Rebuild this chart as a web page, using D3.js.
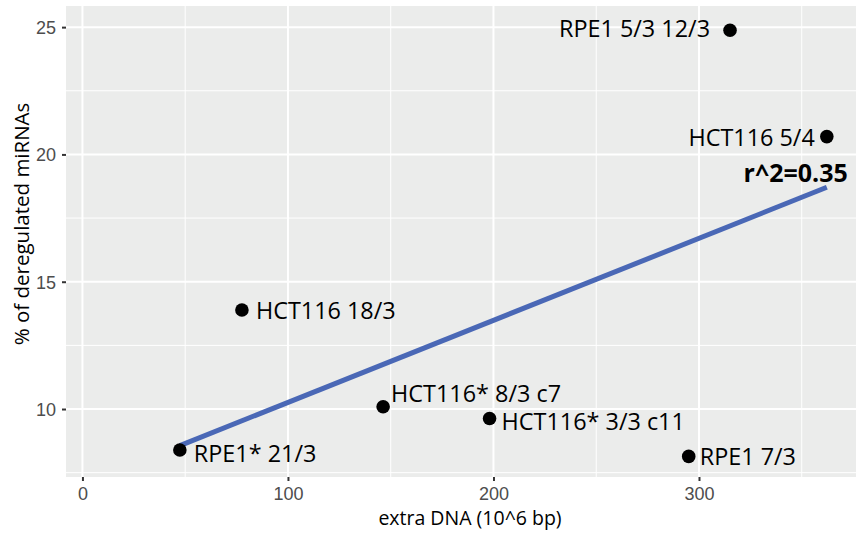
<!DOCTYPE html>
<html>
<head>
<meta charset="utf-8">
<script src="https://cdn.jsdelivr.net/npm/d3@7"></script>
<style>
  body { margin: 0; background: #fff; }
  svg { font-family: 'Open Sans', sans-serif; }
</style>
</head>
<body>
<div id="plotSection"></div>
<script>
// data
const samples = ['RPE1* 21/3', 'HCT116 18/3', 'HCT116* 8/3 c7', 'HCT116* 3/3 c11', 'RPE1 7/3', 'RPE1 5/3 12/3', 'HCT116 5/4']
const extraDNA = [47.4, 77.6, 146.3, 198.1, 295.0, 315.1, 362.2]
const deregulated = [8.39, 13.89, 10.09, 9.63, 8.14, 24.88, 20.70]
const xTicks = [0, 100, 200, 300]
const yTicks = [10, 15, 20, 25]

// label placement (pixels, relative to the point)
const labelLayout = [
    { side: 'right', dx: 14, dy: 11.5 },
    { side: 'right', dx: 14, dy: 9.5 },
    { side: 'right', dx: 8, dy: -5 },
    { side: 'right', dx: 12, dy: 11.5 },
    { side: 'right', dx: 11, dy: 8.7 },
    { side: 'left', dx: -20, dy: 7 },
    { side: 'left', dx: -12, dy: 9.4 }
]

const W = 856, H = 536
const panel = { left: 66, right: 856, top: 6, bottom: 477 }

const data = samples.map((s, i) => ({ name: s, x: extraDNA[i], y: deregulated[i], lay: labelLayout[i] }))

const xScale = d3.scaleLinear().domain([-8.0, 376.4]).range([panel.left, panel.right])
const yScale = d3.scaleLinear().domain([7.33, 25.83]).range([panel.bottom, panel.top])

// least squares fit (geom_smooth method = lm)
const mx = d3.mean(data, d => d.x), my = d3.mean(data, d => d.y)
const sxy = d3.sum(data, d => (d.x - mx) * (d.y - my))
const sxx = d3.sum(data, d => (d.x - mx) ** 2)
const syy = d3.sum(data, d => (d.y - my) ** 2)
const slope = sxy / sxx, intercept = my - slope * mx
const r2 = (sxy * sxy) / (sxx * syy)
const fitX = d3.extent(data, d => d.x)
const fit = fitX.map(x => ({ x: x, y: intercept + slope * x }))

const svg = d3.select('#plotSection').append('svg')
    .attr('width', W)
    .attr('height', H)

svg.append('rect')
    .attr('x', panel.left).attr('y', panel.top)
    .attr('width', panel.right - panel.left)
    .attr('height', panel.bottom - panel.top)
    .attr('fill', '#EBECEB')

const grid = svg.append('g')
const xMinor = [50, 150, 250, 350]
const yMinor = [7.5, 12.5, 17.5, 22.5]

grid.selectAll('.xminor').data(xMinor).enter().append('line')
    .attr('x1', xScale).attr('x2', xScale)
    .attr('y1', panel.top).attr('y2', panel.bottom)
    .attr('stroke', '#fff').attr('stroke-width', 1)
grid.selectAll('.yminor').data(yMinor).enter().append('line')
    .attr('y1', yScale).attr('y2', yScale)
    .attr('x1', panel.left).attr('x2', panel.right)
    .attr('stroke', '#fff').attr('stroke-width', 1)
grid.selectAll('.xmajor').data(xTicks).enter().append('line')
    .attr('x1', xScale).attr('x2', xScale)
    .attr('y1', panel.top).attr('y2', panel.bottom)
    .attr('stroke', '#fff').attr('stroke-width', 2)
grid.selectAll('.ymajor').data(yTicks).enter().append('line')
    .attr('y1', yScale).attr('y2', yScale)
    .attr('x1', panel.left).attr('x2', panel.right)
    .attr('stroke', '#fff').attr('stroke-width', 2)

// axes
const xAxis = d3.axisBottom(xScale).tickValues(xTicks).tickSize(4).tickPadding(6).tickSizeOuter(0)
const yAxis = d3.axisLeft(yScale).tickValues(yTicks).tickSize(4).tickPadding(6).tickSizeOuter(0)

const gx = svg.append('g')
    .attr('transform', `translate(0,${panel.bottom})`)
    .call(xAxis)
gx.select('.domain').remove()
gx.selectAll('line').attr('stroke', '#333').attr('stroke-width', 2)
gx.selectAll('text').attr('fill', '#4D4D4D').style('font-size', '18px')

const gy = svg.append('g')
    .attr('transform', `translate(${panel.left},0)`)
    .call(yAxis)
gy.select('.domain').remove()
gy.selectAll('line').attr('stroke', '#333').attr('stroke-width', 2)
gy.selectAll('text').attr('fill', '#4D4D4D').style('font-size', '18px').attr('dy', '0.36em')

svg.append('text')
    .attr('x', 470)
    .attr('y', 525)
    .attr('text-anchor', 'middle')
    .style('font-size', '19.5px')
    .attr('fill', '#000')
    .text('extra DNA (10^6 bp)')

svg.append('text')
    .attr('transform', 'translate(29,224) rotate(-90)')
    .attr('text-anchor', 'middle')
    .style('font-size', '20.5px')
    .attr('fill', '#000')
    .text('% of deregulated miRNAs')

// regression line
svg.append('path')
    .datum(fit)
    .attr('d', d3.line().x(d => xScale(d.x)).y(d => yScale(d.y)))
    .attr('stroke', '#4A68B6')
    .attr('stroke-width', 5)
    .attr('fill', 'none')

svg.selectAll('.dot')
    .data(data)
    .enter().append('circle')
    .attr('class', 'dot')
    .attr('r', 6.8)
    .attr('cx', d => xScale(d.x))
    .attr('cy', d => yScale(d.y))
    .attr('fill', '#000')

svg.selectAll('.label')
    .data(data)
    .enter().append('text')
    .attr('class', 'label')
    .attr('x', d => xScale(d.x) + d.lay.dx)
    .attr('y', d => yScale(d.y) + d.lay.dy)
    .attr('text-anchor', d => d.lay.side === 'left' ? 'end' : 'start')
    .style('font-size', '23.4px')
    .attr('fill', '#000')
    .text(d => d.name)

const fitEnd = fit[1]
svg.append('text')
    .attr('x', xScale(fitEnd.x) + 21)
    .attr('y', yScale(fitEnd.y) - 5.5)
    .attr('text-anchor', 'end')
    .style('font-size', '25px')
    .style('font-weight', 'bold')
    .attr('fill', '#000')
    .text(`r^2=${r2.toFixed(2)}`)
</script>
</body>
</html>
